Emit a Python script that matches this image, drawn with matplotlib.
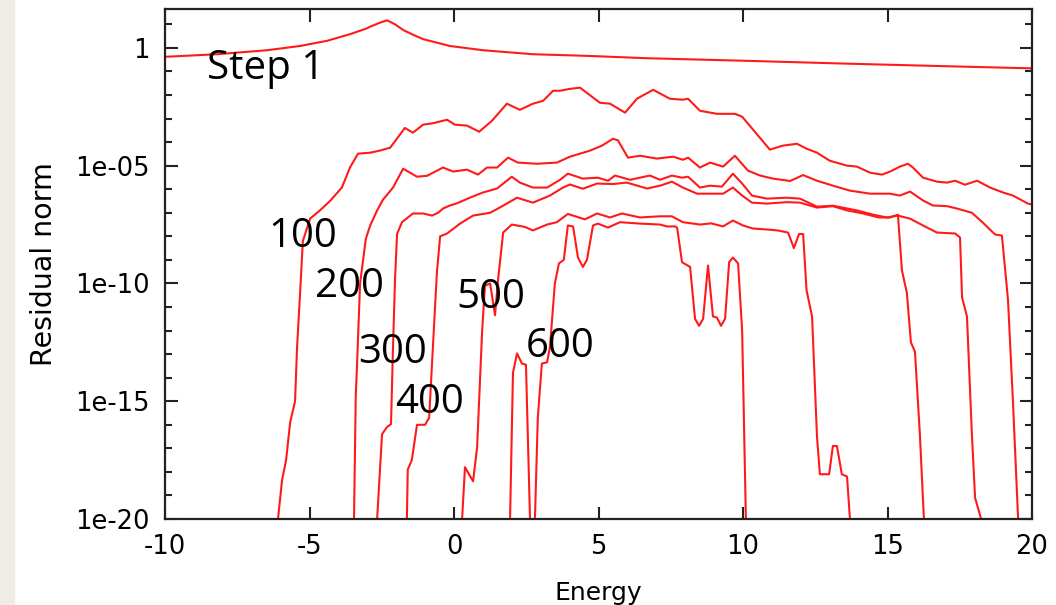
import numpy as np
import matplotlib
matplotlib.use('Agg')
import matplotlib.pyplot as plt
from matplotlib.ticker import FixedLocator, FixedFormatter, NullFormatter
from matplotlib.patches import Rectangle

# values: energy and log10(residual norm)
step1_x = [-10, -8.2, -6.47, -5.33, -4.39, -3.6, -3.01, -2.9, -2.56, -2.32, -2.04, -1.76,
           -1.42, -1.07, -0.14, 1.0, 2.73, 4.36, 5.05, 6.68, 10.14, 13.6, 17.06, 20]
step1_e = [-0.38, -0.27, -0.10, 0.08, 0.30, 0.58, 0.83, 0.9, 1.07, 1.17, 1.0, 0.76,
           0.56, 0.37, 0.08, -0.10, -0.27, -0.33, -0.36, -0.44, -0.55, -0.67, -0.78, -0.87]

it100_x = [-6.09, -5.95, -5.81, -5.67, -5.5, -5.43, -5.33, -5.23, -4.98, -4.64, -4.29,
           -3.88, -3.6, -3.32, -2.9, -2.56, -2.21, -1.7, -1.42, -1.07, -0.73, -0.24,
           0.03, 0.45, 0.87, 1.31, 1.83, 2.28, 2.73, 3.08, 3.43, 3.67, 4.01, 4.36,
           5.05, 5.4, 5.92, 6.33, 6.89, 7.47, 7.92, 8.1, 8.51, 9.1, 9.72, 9.97,
           10.93, 11.38, 11.87, 12.2, 12.56, 13.0, 13.6, 13.94, 14.4, 14.81, 15.09,
           15.43, 15.71, 15.88, 16.23, 16.71, 17.06, 17.34, 17.68, 18.1, 18.55,
           19.0, 19.34, 19.86, 20]
it100_e = [-20.0, -18.35, -17.5, -15.9, -15.0, -12.7, -10.5, -8.2, -7.25, -6.9, -6.5,
           -5.93, -5.08, -4.49, -4.45, -4.36, -4.24, -3.4, -3.6, -3.26, -3.2, -3.05,
           -3.26, -3.3, -3.56, -3.1, -2.37, -2.63, -2.37, -2.25, -1.82, -1.82, -1.74, -1.69,
           -2.33, -2.37, -2.75, -2.16, -1.78, -2.16, -2.2, -2.16, -2.67, -2.8, -2.8, -2.92,
           -4.32, -4.15, -4.07, -4.28, -4.45, -4.79, -5.0, -5.04, -5.3, -5.38, -5.25,
           -5.04, -4.92, -5.08, -5.51, -5.68, -5.72, -5.64, -5.81, -5.64, -5.93,
           -6.14, -6.27, -6.61, -6.65]

it200_x = [-3.46, -3.4, -3.36, -3.25, -3.05, -2.9, -2.66, -2.46, -2.11, -1.76, -1.28,
           -0.93, -0.38, -0.03, 0.45, 0.83, 1.14, 1.49, 1.87, 2.21, 2.87, 3.56, 4.01,
           4.12, 4.71, 5.12, 5.5, 5.67, 6.02, 6.44, 7.02, 7.58, 7.92, 8.1, 8.51, 8.86,
           9.31, 9.72, 10.17, 10.59, 11.04, 11.63, 12.08, 12.56, 13.11, 13.7, 14.4,
           15.09, 15.43, 15.78, 16.23, 16.57, 17.06, 17.4, 17.92, 18.3, 18.72, 18.96,
           19.17, 19.34, 19.52]
it200_e = [-20.0, -14.8, -13.6, -10.0, -8.1, -7.54, -6.9, -6.45, -5.93, -5.13, -5.47,
           -5.43, -5.08, -5.25, -5.17, -5.38, -5.08, -5.08, -4.66, -4.87, -4.92, -4.87, -4.62,
           -4.58, -4.36, -4.15, -3.86, -3.92, -4.66, -4.58, -4.7, -4.62, -4.75, -4.66, -5.08, -4.87,
           -5.04, -4.58, -5.21, -5.42, -5.55, -5.65, -5.4, -5.64, -5.85, -6.06, -6.19,
           -6.19, -6.27, -6.1, -6.48, -6.69, -6.72, -6.82, -7.0, -7.42, -7.92, -7.97,
           -10.7, -15.0, -20.0]

it300_x = [-2.66, -2.49, -2.32, -2.18, -2.11, -2.04, -1.97, -1.8, -1.42, -1.07, -0.76,
           -0.55, -0.38, -0.14, 0.1, 0.55, 1.0, 1.49, 2.0, 2.28, 2.73, 3.22, 3.67, 3.94,
           4.46, 4.98, 5.33, 5.57, 6.09, 6.78, 7.13, 7.54, 7.89, 8.1, 8.51, 8.86, 9.27,
           9.65, 9.97, 10.31, 10.83, 11.52, 11.97, 12.56, 13.11, 13.94, 14.5, 14.98,
           15.36, 15.78, 16.23, 16.71, 17.34, 17.51, 17.58, 17.75, 17.92, 18.03, 18.24]
it300_e = [-20.0, -16.4, -16.1, -15.97, -12.7, -9.8, -7.9, -7.4, -7.03, -7.03, -7.12,
           -7.0, -6.82, -6.69, -6.6, -6.36, -6.14, -5.97, -5.47, -5.72, -5.93, -5.93, -5.6, -5.34,
           -5.55, -5.51, -5.64, -5.42, -5.6, -5.42, -5.6, -5.42, -5.51, -5.47, -5.93, -5.85, -5.89,
           -5.34, -5.76, -6.27, -6.4, -6.36, -6.4, -6.74, -6.7, -6.9, -7.08, -7.2,
           -7.12, -7.25, -7.54, -7.84, -7.88, -8.05, -10.6, -11.4, -16.4, -19.1, -20.0]

it400_x = [-1.63, -1.6, -1.46, -1.28, -1.0, -0.86, -0.73, -0.59, -0.48, -0.24, 0.21,
           0.66, 1.25, 1.7, 2.18, 2.73, 3.32, 3.77, 4.01, 4.46, 4.95, 5.5, 5.98, 6.68,
           7.13, 7.54, 7.92, 8.41, 8.86, 9.31, 9.65, 9.97, 10.31, 10.83, 11.52, 11.97,
           12.56, 13.11, 13.6, 14.15, 14.7, 15.09, 15.36, 15.5, 15.67, 15.81, 15.95,
           16.12, 16.26]
it400_e = [-20.0, -17.9, -17.5, -16.0, -16.0, -15.7, -12.7, -9.5, -8.0, -7.88, -7.46,
           -7.12, -7.0, -6.7, -6.36, -6.57, -6.27, -5.93, -5.8, -5.98, -5.76, -5.78, -5.72, -5.97,
           -5.85, -5.68, -5.93, -6.19, -6.19, -6.19, -5.93, -6.27, -6.57, -6.61, -6.55, -6.57,
           -6.78, -6.72, -6.9, -7.03, -7.2, -7.2, -7.08, -9.45, -10.4, -12.5, -12.9,
           -16.4, -20.0]

it500_x = [0.28, 0.38, 0.66, 0.8, 0.97, 1.07, 1.25, 1.42, 1.52, 1.7, 2.0, 2.45, 2.73,
           3.22, 3.56, 3.94, 4.53, 4.95, 5.4, 5.81, 6.44, 7.13, 7.54, 7.92, 8.51, 8.9,
           9.31, 9.65, 10.0, 10.35, 10.83, 11.2, 11.56, 11.76, 11.94, 12.08, 12.2,
           12.39, 12.56, 12.66, 12.98, 13.11, 13.25, 13.42, 13.6, 13.7]
it500_e = [-20.0, -17.8, -18.4, -16.95, -12.1, -10.1, -10.0, -11.35, -9.9, -7.84, -7.5, -7.6, -7.75,
           -7.5, -7.4, -7.05, -7.28, -7.03, -7.2, -7.03, -7.2, -7.15, -7.15, -7.4, -7.5, -7.45,
           -7.58, -7.33, -7.54, -7.67, -7.71, -7.75, -7.84, -8.5, -7.9, -7.9, -10.3,
           -11.4, -16.5, -18.1, -18.1, -16.9, -16.9, -18.1, -18.2, -20.0]

it600_x = [1.94, 2.04, 2.18, 2.35, 2.49, 2.63, 2.71, 2.8, 2.9, 3.04, 3.22, 3.32, 3.49,
           3.63, 3.8, 3.94, 4.12, 4.29, 4.46, 4.6, 4.81, 4.98, 5.33, 5.74, 6.44, 7.13,
           7.37, 7.65, 7.72, 7.89, 8.17, 8.34, 8.48, 8.62, 8.79, 8.96, 9.1, 9.24, 9.38,
           9.52, 9.65, 9.83, 9.97, 10.1]
it600_e = [-20.0, -13.8, -12.97, -13.4, -13.45, -20.0, -22.0, -20.0, -15.7, -13.4, -13.35, -12.7, -10.0,
           -9.15, -9.0, -7.54, -7.58, -8.9, -9.3, -9.0, -7.54, -7.46, -7.63, -7.4, -7.46, -7.5,
           -7.58, -7.58, -7.63, -9.1, -9.3, -11.5, -11.8, -11.5, -9.24, -11.4, -11.45, -11.8, -11.5,
           -9.1, -8.9, -9.15, -12.0, -20.0]

xtick_vals = [-10, -5, 0, 5, 10, 15, 20]
ytick_vals = [1e-20, 1e-15, 1e-10, 1e-05, 1]
ytick_labels = ['1e-20', '1e-15', '1e-10', '1e-05', '1']

curves = [(step1_x, step1_e), (it100_x, it100_e), (it200_x, it200_e), (it300_x, it300_e),
          (it400_x, it400_e), (it500_x, it500_e), (it600_x, it600_e)]

red = '#ff1a1a'
fig = plt.figure(figsize=(10.56, 6.05), dpi=100)
fig.patches.append(Rectangle((0, 0), 14 / 1056, 1, transform=fig.transFigure,
                             color='#efebe7', zorder=0))
ax = fig.add_axes([165 / 1056, 1 - 519 / 605, 867 / 1056, 510 / 605])

for xs, es in curves:
    ax.plot(xs, 10.0 ** np.array(es), color=red, lw=1.5)

ax.set_yscale('log')
ax.set_xlim(-10, 20)
ax.set_ylim(1e-20, 10 ** 1.65)
ax.set_xticks(xtick_vals)
ax.set_xticklabels([str(v) for v in xtick_vals])
ax.yaxis.set_major_locator(FixedLocator(ytick_vals))
ax.yaxis.set_major_formatter(FixedFormatter(ytick_labels))
ax.yaxis.set_minor_locator(FixedLocator([10.0 ** k for k in range(-20, 2)]))
ax.yaxis.set_minor_formatter(NullFormatter())
ax.tick_params(which='both', direction='in', top=True, right=True, width=1.5, color='#222222')
ax.tick_params(which='major', length=9, labelsize=18.5, pad=11)
ax.tick_params(which='minor', length=5)
for s in ax.spines.values():
    s.set_linewidth(1.6)
    s.set_color('#222222')

ax.set_xlabel('Energy', fontsize=18, labelpad=15)
ax.set_ylabel('Residual norm', fontsize=20.5, labelpad=12)

lab = dict(fontsize=29, family='Open Sans', color='black')
ax.text(-8.55, 10 ** -1.31, 'Step 1', **lab)
ax.text(-6.42, 10 ** -8.47, '100', **lab)
ax.text(-4.81, 10 ** -10.59, '200', **lab)
ax.text(-3.32, 10 ** -13.39, '300', **lab)
ax.text(-2.02, 10 ** -15.51, '400', **lab)
ax.text(0.07, 10 ** -11.06, '500', **lab)
ax.text(2.48, 10 ** -13.14, '600', **lab)

fig.savefig('out.png', dpi=100)
